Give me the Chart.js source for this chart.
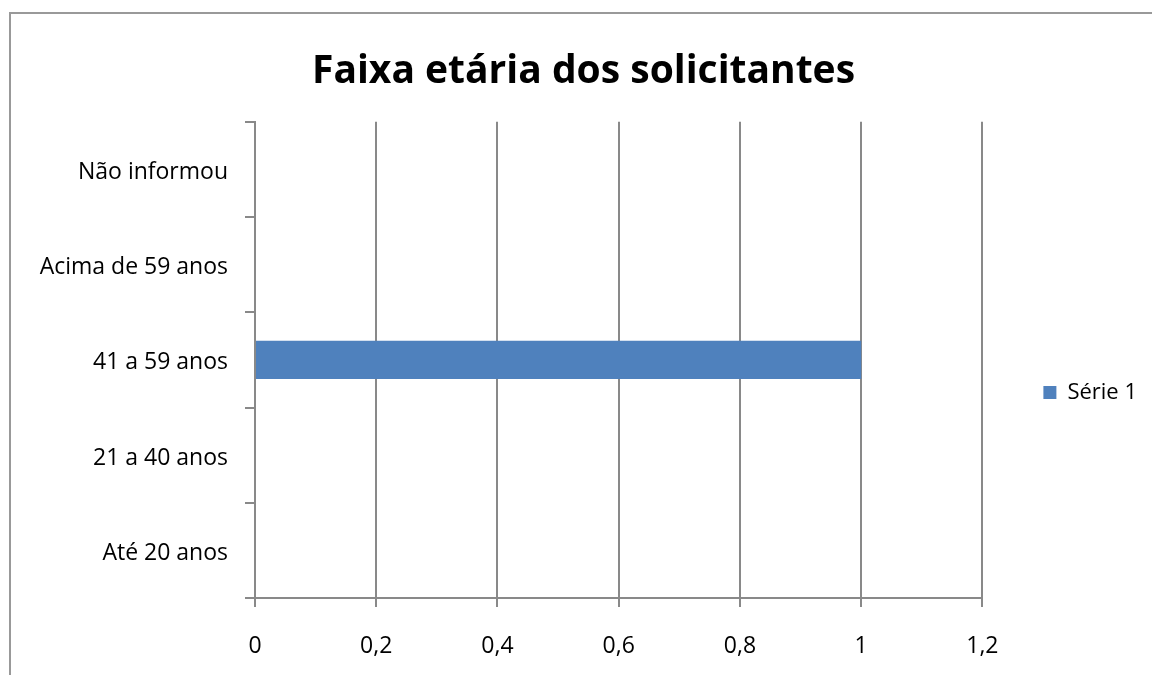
<!DOCTYPE html>
<html><head><meta charset="utf-8">
<script src="https://cdn.jsdelivr.net/npm/chart.js@4.4.1/dist/chart.umd.min.js"></script>
<style>html,body{margin:0;padding:0;background:#fff;overflow:hidden}#wrap{width:1152px;height:675px;position:relative}</style>
</head><body><div id="wrap"><canvas id="c" width="1152" height="675"></canvas></div>
<script>
const categories = ["Até 20 anos", "21 a 40 anos", "41 a 59 anos", "Acima de 59 anos", "Não informou"];
const serie1 = [0, 0, 1, 0, 0];
const seriesName = "Série 1";
const chartTitle = "Faixa etária dos solicitantes";
const xMin = 0, xMax = 1.2, xStep = 0.2;

const FONT = "'Open Sans', sans-serif";
const GRID = "#898989";

const framePlugin = {
  id: 'frame',
  beforeDraw(chart) {
    const ctx = chart.ctx;
    ctx.save();
    ctx.fillStyle = '#fff';
    ctx.fillRect(0, 0, chart.width, chart.height);
    ctx.strokeStyle = '#999';
    ctx.lineWidth = 2;
    ctx.strokeRect(10, 13, 1300, 800);
    ctx.restore();
  }
};

new Chart(document.getElementById('c'), {
  type: 'bar',
  data: {
    labels: categories,
    datasets: [{
      label: seriesName,
      data: serie1,
      backgroundColor: '#4f81bd',
      borderWidth: 0,
      barPercentage: 0.4,
      categoryPercentage: 1.0
    }]
  },
  plugins: [framePlugin],
  options: {
    indexAxis: 'y',
    responsive: false,
    animation: false,
    devicePixelRatio: 1,
    layout: { padding: { left: 20, right: 5, top: 0, bottom: 0 } },
    plugins: {
      title: {
        display: true,
        text: chartTitle,
        color: '#000',
        font: { family: FONT, size: 39, weight: 'bold' },
        padding: { top: 48, bottom: 27 }
      },
      legend: {
        display: true,
        position: 'right',
        title: { display: true, text: ' ', font: { size: 20 }, padding: 43 },
        labels: {
          color: '#000',
          font: { family: FONT, size: 22 },
          boxWidth: 13,
          boxHeight: 13,
          padding: 61
        }
      },
      tooltip: { enabled: false }
    },
    scales: {
      x: {
        type: 'linear',
        min: xMin, max: xMax,
        afterFit(s) { s.height = 77; },
        ticks: {
          stepSize: xStep,
          color: '#000',
          font: { family: FONT, size: 23 },
          padding: 26,
          callback: v => String(Math.round(v * 10) / 10).replace('.', ',')
        },
        grid: { color: GRID, lineWidth: 2, tickLength: 9, drawTicks: true },
        border: { display: true, color: GRID, width: 2 }
      },
      y: {
        type: 'category',
        reverse: true,
        afterFit(s) { s.width = 235; },
        ticks: {
          color: '#000',
          font: { family: FONT, size: 23 },
          padding: 17,
          labelOffset: 3
        },
        grid: { color: GRID, lineWidth: 2, tickLength: 10, drawOnChartArea: false, offset: true },
        border: { display: true, color: GRID, width: 2 }
      }
    }
  }
});
</script>
</body></html>
